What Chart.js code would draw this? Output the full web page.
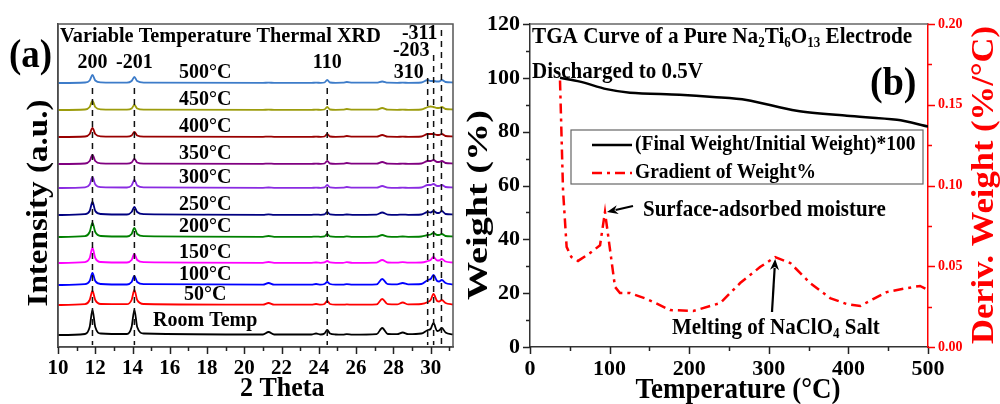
<!DOCTYPE html>
<html>
<head>
<meta charset="utf-8">
<script src="https://cdn.jsdelivr.net/npm/chart.js@4.4.0/dist/chart.umd.min.js"></script>
<style>
  html, body { margin: 0; padding: 0; background: #fff; }
  #wrap { position: relative; width: 1000px; height: 404px; overflow: hidden; }
  #xrd { position: absolute; left: 0; top: 0; }
  #tga { position: absolute; left: 462px; top: 0; }
</style>
</head>
<body>
<div id="wrap">
  <canvas id="xrd" width="462" height="404"></canvas>
  <canvas id="tga" width="538" height="404"></canvas>
</div>
<script>
const FONT = "'Liberation Serif', 'Times New Roman', serif";

// ---------- (a) variable-temperature XRD ----------
const twoTheta = [10, 11.45, 11.7, 11.85, 12.0, 12.3, 13.7, 13.95, 14.1, 14.25, 14.6,
  21.0, 21.3, 21.6, 23.6, 23.85, 24.1, 24.3, 24.45, 24.6, 24.9, 25.3, 25.5, 25.8,
  27.1, 27.4, 27.7, 28.2, 28.5, 28.8, 29.5, 29.85, 30.0, 30.15, 30.35, 30.45, 30.6, 30.8, 31.2];

const iRT  = [0, 1, 8, 25, 8, 1.5, 1, 8, 25, 8, 1.5, 0.5, 3, 0.5, 0.5, 1.5, 0.5, 1.5, 5, 1.5, 0.5, 0.3, 0.8, 0.3, 0.8, 7, 1, 0.8, 2.5, 0.8, 1.5, 5, 6, 12, 4, 4.5, 7, 2.5, 0.5];
const i50  = [0, 0.8, 5, 14, 5, 1, 0.8, 5, 15, 5, 1, 0.3, 2, 0.3, 0.3, 1, 0.3, 1, 4, 1, 0.3, 0.3, 0.6, 0.3, 0.6, 6, 0.8, 0.6, 2.5, 0.6, 1, 3, 5, 11, 4, 3.5, 5, 2, 0.5];
const i100 = [0, 0.8, 4, 12, 4, 1, 0.5, 3, 9, 3, 0.8, 0.3, 2, 0.3, 0.3, 1, 0.3, 1, 3, 1, 0.3, 0.3, 0.8, 0.3, 0.6, 6, 0.8, 0.6, 2, 0.6, 1, 5, 6, 10, 4, 3.5, 5, 2, 0.5];
const i150 = [0, 0.8, 5, 15, 5, 1, 0.5, 3, 9, 3, 0.8, 0.2, 1, 0.2, 0.2, 0.5, 0.2, 0.6, 2, 0.6, 0.2, 0.2, 0.8, 0.2, 0.4, 3, 0.5, 0.3, 0.8, 0.3, 0.5, 2, 3, 6, 2.5, 2.5, 4, 1.5, 0.5];
const i200 = [0, 0.8, 5, 14, 5, 1, 0.5, 3, 9, 3, 0.8, 0.2, 1, 0.2, 0.2, 0.4, 0.2, 0.6, 3, 0.6, 0.2, 0.2, 0.6, 0.2, 0.4, 2, 0.4, 0.2, 0.5, 0.2, 0.5, 2, 2.5, 4, 2, 2, 3, 1, 0.5];
const i250 = [0, 0.8, 4, 13, 4, 1, 0.5, 3, 8, 3, 0.8, 0.2, 0.6, 0.2, 0.2, 0.4, 0.2, 0.6, 3, 0.6, 0.2, 0.2, 0.5, 0.2, 0.4, 2.5, 0.4, 0.2, 0.4, 0.2, 0.5, 3, 2.5, 4, 2, 2, 4, 1, 0.5];
const i300 = [0, 0.6, 3.5, 11, 3.5, 0.8, 0.5, 2.5, 8, 2.5, 0.6, 0.2, 0.5, 0.2, 0.2, 0.3, 0.2, 0.6, 3, 0.6, 0.2, 0.3, 1, 0.3, 0.4, 2, 0.4, 0.2, 0.3, 0.2, 0.5, 3, 3, 4, 2, 2, 3, 1, 0.5];
const i350 = [0, 0.5, 3, 9, 3, 0.6, 0.3, 1.5, 5, 1.5, 0.4, 0.2, 0.4, 0.2, 0.2, 0.3, 0.2, 0.5, 3, 0.5, 0.2, 0.3, 1, 0.3, 0.3, 2, 0.3, 0.2, 0.3, 0.2, 0.5, 3, 3, 4, 2, 2, 3, 1, 0.5];
const i400 = [0, 0.5, 3, 9, 3, 0.6, 0.3, 1.5, 5, 1.5, 0.4, 0.2, 0.4, 0.2, 0.2, 0.3, 0.2, 0.5, 3, 0.5, 0.2, 0.3, 1, 0.3, 0.3, 2, 0.3, 0.2, 0.3, 0.2, 0.5, 3, 3, 3, 2, 2, 3, 1, 0.5];
const i450 = [0, 0.5, 3, 9, 3, 0.6, 0.3, 1.5, 5, 1.5, 0.4, 0.2, 0.3, 0.2, 0.2, 0.3, 0.2, 0.5, 3, 0.5, 0.2, 0.3, 1, 0.3, 0.3, 2, 0.3, 0.2, 0.3, 0.2, 0.5, 3, 3.5, 3, 2, 2, 3, 1, 0.5];
const i500 = [0, 0.5, 2.5, 8, 2.5, 0.6, 0.3, 2, 6, 2, 0.4, 0.2, 0.3, 0.2, 0.2, 0.3, 0.2, 0.5, 3, 0.5, 0.2, 0.3, 1, 0.3, 0.3, 1.5, 0.3, 0.2, 0.3, 0.2, 0.5, 3, 2, 2, 1.5, 1.5, 3, 1, 0.5];

const tempLabels = ['Room Temp', '50°C', '100°C', '150°C', '200°C', '250°C', '300°C', '350°C', '400°C', '450°C', '500°C'];
const traceOffsets = [12, 42, 62, 84, 110, 132, 159, 183, 210, 237, 264];
const traceColors = ['#000000', '#ff0000', '#0000ff', '#ff00ff', '#008000', '#000080', '#8a2be2', '#800080', '#990000', '#9c9c0c', '#3d7cc9'];
const traces = [iRT, i50, i100, i150, i200, i250, i300, i350, i400, i450, i500];

// Miller-index reference lines
const peakPos    = [11.85, 14.1, 24.45, 29.84, 30.16, 30.58];
const peakHkl    = ['200', '-201', '110', '310', '-203', '-311'];
const peakTop    = [259, 259, 259, 269, 292, 317];
const peakLabelY = [285, 285, 285, 275, 297, 314];

// ---------- (b) TGA ----------
const weightT = [37.7, 62.8, 96.3, 125.6, 188, 230, 272, 335, 398, 461, 500];
const weightV = [100, 98.6, 95.8, 94.5, 93.7, 92.9, 91.8, 87.8, 85.9, 84.4, 81.9];
const gradT = [37.7, 41.5, 46, 52, 60.3, 75, 88, 94.2, 106.8, 113, 125.6, 147, 176, 205, 239, 264, 289, 308, 327, 352, 377, 398, 415, 431, 448, 474, 490, 500];
const gradV = [0.165, 0.097, 0.062, 0.0557, 0.0533, 0.058, 0.063, 0.0836, 0.0372, 0.0334, 0.0334, 0.0297, 0.0229, 0.0223, 0.0272, 0.0396, 0.0495, 0.0557, 0.052, 0.0396, 0.0303, 0.0266, 0.0254, 0.0297, 0.034, 0.0365, 0.0378, 0.0353];

// ---------- drawing helpers ----------
// o.len stretches the string along its baseline to a given length
function text(ctx, str, x, y, o = {}) {
  ctx.save();
  ctx.font = `bold ${o.size || 20}px ${FONT}`;
  ctx.fillStyle = o.color || '#000';
  ctx.textAlign = o.align || 'left';
  ctx.textBaseline = 'middle';
  ctx.translate(x, y);
  if (o.rotate) ctx.rotate(o.rotate);
  let sx = o.sx || 1;
  if (o.len) sx = o.len / ctx.measureText(str).width;
  ctx.scale(sx, o.sy || 1.08);
  ctx.fillText(str, 0, 0);
  ctx.restore();
}

// text runs with subscripts: parts = [[string, isSub], ...]
function richText(ctx, parts, x, y, size) {
  ctx.save();
  ctx.fillStyle = '#000';
  ctx.textBaseline = 'middle';
  ctx.textAlign = 'left';
  let cx = x;
  parts.forEach(([s, sub]) => {
    const fs = sub ? Math.round(size * 0.62) : size;
    ctx.font = `bold ${fs}px ${FONT}`;
    ctx.save();
    ctx.translate(cx, sub ? y + size * 0.32 : y);
    ctx.scale(1, 1.08);
    ctx.fillText(s, 0, 0);
    ctx.restore();
    cx += ctx.measureText(s).width;
  });
  ctx.restore();
}

function ticks(ctx, scale, step, minorStep, side, color) {
  ctx.save();
  ctx.strokeStyle = color;
  ctx.lineWidth = 1.5;
  ctx.beginPath();
  const n = Math.round((scale.max - scale.min) / minorStep);
  for (let k = 0; k <= n; k++) {
    const v = scale.min + k * minorStep;
    if (v > scale.max + 1e-9) break;
    const major = Math.abs(v / step - Math.round(v / step)) < 1e-6;
    const len = major ? 7 : 4;
    const p = Math.round(scale.getPixelForValue(v)) + 0.5;
    if (side === 'bottom') { ctx.moveTo(p, scale.top); ctx.lineTo(p, scale.top + len); }
    if (side === 'left')   { ctx.moveTo(scale.right, p); ctx.lineTo(scale.right - len, p); }
    if (side === 'right')  { ctx.moveTo(scale.left, p); ctx.lineTo(scale.left + len, p); }
  }
  ctx.stroke();
  ctx.restore();
}

function arrow(ctx, x1, y1, x2, y2) {
  const ang = Math.atan2(y2 - y1, x2 - x1);
  const hl = 11, hw = 4.5;
  ctx.save();
  ctx.strokeStyle = '#000';
  ctx.fillStyle = '#000';
  ctx.lineWidth = 2.2;
  ctx.beginPath();
  ctx.moveTo(x1, y1);
  ctx.lineTo(x2 - Math.cos(ang) * hl * 0.8, y2 - Math.sin(ang) * hl * 0.8);
  ctx.stroke();
  ctx.beginPath();
  ctx.moveTo(x2, y2);
  ctx.lineTo(x2 - Math.cos(ang) * hl - Math.sin(ang) * hw, y2 - Math.sin(ang) * hl + Math.cos(ang) * hw);
  ctx.lineTo(x2 - Math.cos(ang) * hl * 0.7, y2 - Math.sin(ang) * hl * 0.7);
  ctx.lineTo(x2 - Math.cos(ang) * hl + Math.sin(ang) * hw, y2 - Math.sin(ang) * hl - Math.cos(ang) * hw);
  ctx.closePath();
  ctx.fill();
  ctx.restore();
}

const tickFont = (size) => ({ family: FONT, weight: 'bold', size });

// ---------- (a) chart ----------
const xrdDecor = {
  id: 'xrdDecor',
  afterDatasetsDraw(chart) {
    const { ctx, chartArea: a, scales: { x, y } } = chart;
    // box frame
    ctx.save();
    ctx.strokeStyle = '#555';
    ctx.lineWidth = 1.5;
    ctx.strokeRect(a.left, a.top, a.right - a.left, a.bottom - a.top);
    ctx.restore();
    ticks(ctx, x, 2, 1, 'bottom', '#222');

    // dashed index lines
    ctx.save();
    ctx.strokeStyle = '#111';
    ctx.lineWidth = 1.5;
    ctx.setLineDash([6, 5]);
    peakPos.forEach((p, i) => {
      const px = x.getPixelForValue(p);
      ctx.beginPath();
      ctx.moveTo(px, y.getPixelForValue(peakTop[i]));
      ctx.lineTo(px, y.getPixelForValue(2));
      ctx.stroke();
    });
    ctx.restore();

    // index labels
    peakHkl.forEach((h, i) => {
      const px = x.getPixelForValue(peakPos[i]);
      const right = i >= 3;
      text(ctx, h, right ? px - 4 : px, y.getPixelForValue(peakLabelY[i]), { size: 20, align: right ? 'right' : 'center' });
    });

    // temperature labels
    const lx = x.getPixelForValue(17.9);
    tempLabels.forEach((t, i) => {
      const gap = i === 0 ? 15 : 11;
      text(ctx, t, lx, y.getPixelForValue(traceOffsets[i] + gap), { size: 20, align: 'center' });
    });

    text(ctx, 'Variable Temperature Thermal XRD', a.left + 2, 36, { size: 20.3 });
    text(ctx, '(a)', 9, 57, { size: 37 });
    text(ctx, '2 Theta', 240, 389, { size: 26 });
    text(ctx, 'Intensity (a.u.)', 40, 203, { size: 29, align: 'center', rotate: -Math.PI / 2, len: 207, sy: 1 });
  }
};

new Chart(document.getElementById('xrd'), {
  type: 'line',
  data: {
    datasets: traces.map((tr, i) => ({
      label: tempLabels[i],
      data: twoTheta.map((t, j) => ({ x: t, y: tr[j] + traceOffsets[i] })),
      borderColor: traceColors[i],
      borderWidth: 1.8,
      pointRadius: 0,
      cubicInterpolationMode: 'monotone',
      fill: false
    }))
  },
  options: {
    responsive: false,
    animation: false,
    layout: { padding: { top: 24, right: 3, left: 0, bottom: 0 } },
    plugins: { legend: { display: false }, tooltip: { enabled: false } },
    scales: {
      x: {
        type: 'linear', min: 10, max: 31.2,
        border: { display: true, color: '#333', width: 1.5 },
        grid: { display: false, drawTicks: false },
        ticks: {
          stepSize: 1, autoSkip: false, maxRotation: 0, padding: 9, color: '#000',
          font: tickFont(21),
          callback: v => (Math.abs(v % 2) < 1e-9 ? String(v) : '')
        },
        afterFit: s => { s.height = 57; }
      },
      y: {
        min: 0, max: 323,
        border: { display: true, color: '#333', width: 1.5 },
        grid: { display: false, drawTicks: false },
        ticks: { display: false },
        afterFit: s => { s.width = 58; }
      }
    }
  },
  plugins: [xrdDecor]
});

// ---------- (b) chart ----------
const tgaDecor = {
  id: 'tgaDecor',
  afterDatasetsDraw(chart) {
    const { ctx, chartArea: a, scales: { x, y, y1 } } = chart;
    ctx.save();
    ctx.strokeStyle = '#666';
    ctx.lineWidth = 1.5;
    ctx.beginPath();
    ctx.moveTo(a.left, a.top);
    ctx.lineTo(a.right, a.top);
    ctx.stroke();
    ctx.restore();

    ticks(ctx, x, 100, 50, 'bottom', '#222');
    ticks(ctx, y, 20, 10, 'left', '#222');
    ticks(ctx, y1, 0.05, 0.025, 'right', '#ff0000');

    // titles inside the plot
    richText(ctx, [['TGA Curve of a Pure Na', 0], ['2', 1], ['Ti', 0], ['6', 1], ['O', 0], ['13', 1], [' Electrode', 0]], a.left + 2, 37, 21.2);
    text(ctx, 'Discharged to 0.5V', a.left + 2, 72, { size: 21 });
    text(ctx, '(b)', 408, 84, { size: 38 });

    // legend
    const lg = { l: 109, t: 130, r: 461, b: 184 };
    ctx.save();
    ctx.fillStyle = '#fff';
    ctx.fillRect(lg.l, lg.t, lg.r - lg.l, lg.b - lg.t);
    ctx.strokeStyle = '#666';
    ctx.lineWidth = 1.2;
    ctx.strokeRect(lg.l, lg.t, lg.r - lg.l, lg.b - lg.t);
    ctx.restore();
    chart.data.datasets.forEach((ds, i) => {
      const ly = 145 + i * 28;
      ctx.save();
      ctx.strokeStyle = ds.borderColor;
      ctx.lineWidth = ds.borderWidth;
      ctx.setLineDash(ds.borderDash || []);
      ctx.beginPath();
      ctx.moveTo(130, ly);
      ctx.lineTo(170, ly);
      ctx.stroke();
      ctx.restore();
      text(ctx, ds.label, 173, ly, { size: 19.5 });
    });

    // annotations pointing at the two derivative peaks
    const ip = gradV.indexOf(0.0836);
    const p1x = x.getPixelForValue(gradT[ip]), p1y = y1.getPixelForValue(gradV[ip]);
    arrow(ctx, 171, 206, p1x + 2, p1y);
    text(ctx, 'Surface-adsorbed moisture', 181, 210, { size: 21 });

    const im = gradV.indexOf(0.0557, 10);
    const p2x = x.getPixelForValue(gradT[im]), p2y = y1.getPixelForValue(gradV[im]);
    arrow(ctx, 310, 312, p2x, p2y + 2);
    richText(ctx, [['Melting of NaClO', 0], ['4', 1], [' Salt', 0]], 210, 328, 21);

    text(ctx, 'Temperature (°C)', 276, 390, { size: 27, align: 'center' });
    text(ctx, 'Weight (%)', 18, 205, { size: 29, align: 'center', rotate: -Math.PI / 2, len: 190, sy: 1 });
    text(ctx, 'Deriv. Weight (%/°C)', 523, 185, { size: 31, align: 'center', rotate: -Math.PI / 2, color: '#ff0000', len: 318, sy: 1 });
  }
};

new Chart(document.getElementById('tga'), {
  type: 'line',
  data: {
    datasets: [
      {
        label: '(Final Weight/Initial Weight)*100',
        data: weightT.map((t, i) => ({ x: t, y: weightV[i] })),
        borderColor: '#000',
        borderWidth: 2.5,
        pointRadius: 0,
        tension: 0.3,
        yAxisID: 'y'
      },
      {
        label: 'Gradient of Weight%',
        data: gradT.map((t, i) => ({ x: t, y: gradV[i] })),
        borderColor: '#ff0000',
        borderWidth: 2.5,
        borderDash: [10, 5, 3, 5],
        pointRadius: 0,
        tension: 0,
        yAxisID: 'y1'
      }
    ]
  },
  options: {
    responsive: false,
    animation: false,
    layout: { padding: { top: 24, right: 0, left: 0, bottom: 0 } },
    plugins: { legend: { display: false }, tooltip: { enabled: false } },
    scales: {
      x: {
        type: 'linear', min: 0, max: 500,
        border: { display: true, color: '#333', width: 1.5 },
        grid: { display: false, drawTicks: false },
        ticks: { stepSize: 100, padding: 9, color: '#000', font: tickFont(22), maxRotation: 0 },
        afterFit: s => { s.height = 57; }
      },
      y: {
        position: 'left', min: 0, max: 120,
        border: { display: true, color: '#333', width: 1.5 },
        grid: { display: false, drawTicks: false },
        ticks: { stepSize: 20, padding: 10, color: '#000', font: tickFont(22) },
        afterFit: s => { s.width = 68; }
      },
      y1: {
        position: 'right', min: 0, max: 0.2,
        border: { display: true, color: '#ff0000', width: 1.5 },
        grid: { display: false, drawTicks: false },
        ticks: { stepSize: 0.05, padding: 10, color: '#ff0000', font: tickFont(14), callback: v => v.toFixed(2) },
        afterFit: s => { s.width = 72; }
      }
    }
  },
  plugins: [tgaDecor]
});
</script>
</body>
</html>
